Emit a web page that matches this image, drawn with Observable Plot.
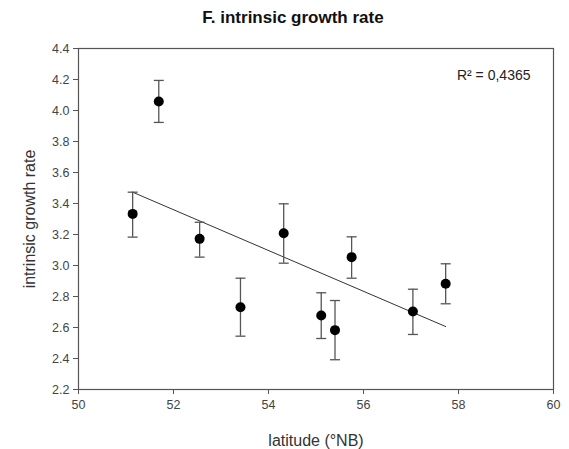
<!DOCTYPE html>
<html><head><meta charset="utf-8">
<script src="https://cdn.jsdelivr.net/npm/d3@7"></script>
<script src="https://cdn.jsdelivr.net/npm/@observablehq/plot@0.6"></script>
<style>
body{margin:0;background:#fff;font-family:"Liberation Sans",Arial,sans-serif;}
#title{position:relative;height:30px;}
#title span{position:absolute;left:0;right:0;padding-left:17px;top:8px;text-align:center;font-weight:bold;font-size:17px;line-height:20px;color:#111;}
</style></head><body>
<div id="title"><span>F. intrinsic growth rate</span></div>
<div id="chart"></div>
<script>
const latitude   = [51.14, 51.69, 52.55, 53.41, 54.32, 55.11, 55.40, 55.75, 57.04, 57.73];
const growthRate = [3.333, 4.058, 3.172, 2.731, 3.208, 2.677, 2.583, 3.054, 2.703, 2.882];
const errLow     = [3.183, 3.923, 3.054, 2.544, 3.015, 2.529, 2.392, 2.918, 2.555, 2.753];
const errHigh    = [3.473, 4.194, 3.279, 2.918, 3.398, 2.824, 2.774, 3.185, 2.847, 3.011];
const fitLatitude = [51.14, 57.73];
const fitRate     = [3.473, 2.606];
const xTicks = [50, 52, 54, 56, 58, 60];
const yTicks = [2.2, 2.4, 2.6, 2.8, 3.0, 3.2, 3.4, 3.6, 3.8, 4.0, 4.2, 4.4];
const xLabel = "latitude (°NB)";
const yLabel = "intrinsic growth rate";
const rSquaredLabel = "R² = 0,4365";

const points = latitude.map((x, i) => ({x, y: growthRate[i], lo: errLow[i], hi: errHigh[i]}));
const fit = fitLatitude.map((x, i) => ({x, y: fitRate[i]}));

const cap = {draw(ctx, size) { ctx.moveTo(-5, 0); ctx.lineTo(5, 0); }};

const chart = Plot.plot({
  width: 569,
  height: 419,
  marginTop: 18,
  marginBottom: 60,
  marginLeft: 78,
  marginRight: 16,
  style: {fontFamily: '"Liberation Sans", Arial, sans-serif', fontSize: "12.5px", color: "#444", background: "#fff"},
  x: {domain: [50, 60]},
  y: {domain: [2.2, 4.4]},
  marks: [
    Plot.frame({stroke: "#555", strokeWidth: 1.2}),
    Plot.axisX({ticks: xTicks, tickSize: 5, tickPadding: 6, stroke: "#555", fill: "#444", label: null, fontSize: 12.5}),
    Plot.axisY({ticks: yTicks, tickFormat: d3.format(".1f"), tickSize: 5, tickPadding: 4, stroke: "#555", fill: "#444", label: null, fontSize: 12.5}),
    Plot.text([xLabel], {frameAnchor: "bottom", dy: 51, text: d => d, fontSize: 16, fill: "#333", lineAnchor: "middle", textAnchor: "middle"}),
    Plot.text([yLabel], {frameAnchor: "left", dx: -49, rotate: -90, text: d => d, fontSize: 16, fill: "#333", lineAnchor: "middle", textAnchor: "middle"}),
    Plot.line(fit, {x: "x", y: "y", stroke: "#333", strokeWidth: 1}),
    Plot.ruleX(points, {x: "x", y1: "lo", y2: "hi", stroke: "#555", strokeWidth: 1.3}),
    Plot.dot(points, {x: "x", y: "lo", symbol: cap, stroke: "#555", strokeWidth: 1.3, r: 5}),
    Plot.dot(points, {x: "x", y: "hi", symbol: cap, stroke: "#555", strokeWidth: 1.3, r: 5}),
    Plot.dot(points, {x: "x", y: "y", r: 5, fill: "#000", stroke: "none"}),
    Plot.text([rSquaredLabel], {frameAnchor: "top-right", dx: -23, dy: 22, text: d => d, fontSize: 14, fill: "#222", textAnchor: "end"})
  ]
});
document.getElementById("chart").append(chart);
</script>
</body></html>
